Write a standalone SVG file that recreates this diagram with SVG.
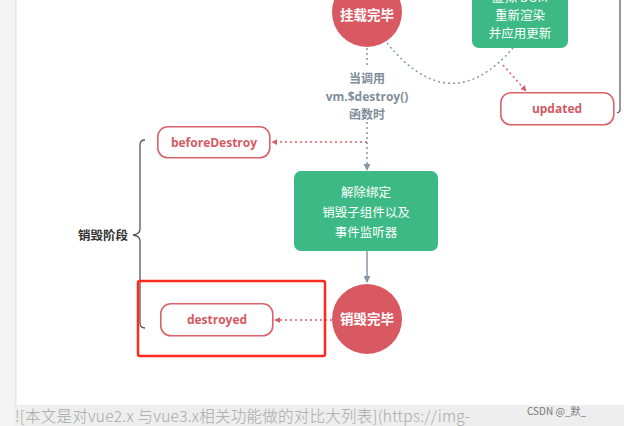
<svg xmlns="http://www.w3.org/2000/svg" width="624" height="426" viewBox="0 0 624 426">
<defs>
<marker id="ar" viewBox="0 0 8 8" refX="7" refY="4" markerWidth="6" markerHeight="6" orient="auto" markerUnits="userSpaceOnUse"><path d="M0,0 L8,4 L0,8 z" fill="#d9606a"/></marker>
<marker id="ag" viewBox="0 0 8 8" refX="7" refY="4" markerWidth="7" markerHeight="7" orient="auto" markerUnits="userSpaceOnUse"><path d="M0,0 L8,4 L0,8 z" fill="#8796a3"/></marker>
</defs>
<style>
.circ{fill:#d95962}
.gbox{fill:#3cb985}
.hook{fill:#fff;stroke:#d9636b;stroke-width:1.6}
.ct{font-family:"Noto Sans CJK SC",sans-serif;font-weight:700;font-size:13.5px;fill:#fff;text-anchor:middle}
.gt{font-family:"Noto Sans CJK SC",sans-serif;font-size:12.5px;fill:#fff;text-anchor:middle}
.ht{font-family:"Open Sans","Noto Sans",sans-serif;font-weight:700;font-size:12px;fill:#d45a64;text-anchor:middle}
.lt{font-family:"Open Sans","Noto Sans CJK SC",sans-serif;font-weight:700;font-size:12px;fill:#7f8d99;text-anchor:middle}
.dg{fill:none;stroke:#8796a3;stroke-width:1.5;stroke-dasharray:2 3}
.dr{fill:none;stroke:#d9606a;stroke-width:1.5;stroke-dasharray:2 3}
</style>
<rect x="0" y="0" width="624" height="426" fill="#fff"/>
<rect x="0" y="0" width="15" height="426" fill="#f4f4f4"/>
<rect x="15" y="0" width="1.5" height="405" fill="#e6e6e6"/>
<rect x="15" y="405" width="609" height="21" fill="#eeeeee"/>
<text x="15" y="422" font-family="'Noto Sans CJK SC',sans-serif" font-size="15.5" fill="#a8a8a8" font-weight="300" textLength="455" lengthAdjust="spacing">![本文是对vue2.x 与vue3.x相关功能做的对比大列表](https://img-</text>
<text x="527" y="415" font-family="'Noto Sans CJK SC',sans-serif" font-size="10" fill="#777">CSDN @_默_</text>

<g id="connectors">
<path class="dg" d="M387,43 Q450,121 513,48"/>
<path class="dr" d="M503,65 L526,91" marker-end="url(#ar)"/>
<path class="dg" d="M367,48 L367,68"/>
<path class="dg" d="M367,122 L367,170" marker-end="url(#ag)"/>
<path class="dr" d="M367,142 L272,142" marker-end="url(#ar)"/>
<path d="M367,251 L367,282" fill="none" stroke="#8796a3" stroke-width="1.5" marker-end="url(#ag)"/>
<path class="dr" d="M332,320 L275,320" marker-end="url(#ar)"/>
</g>

<g id="mounted">
<circle class="circ" cx="367" cy="12" r="35"/>
<text class="ct" x="367" y="20">挂载完毕</text>
</g>
<g id="rerender">
<rect class="gbox" x="472" y="-20" width="96" height="68" rx="7"/>
<text class="gt" x="520" y="2">虚拟 DOM</text>
<text class="gt" x="520" y="20">重新渲染</text>
<text class="gt" x="520" y="38">并应用更新</text>
</g>
<g id="updated">
<rect class="hook" x="500.8" y="92.8" width="113" height="32" rx="10"/>
<text class="ht" x="557" y="113">updated</text>
</g>
<g id="rightbrace">
<path d="M620,0 L620,110 Q620,112 617,113" fill="none" stroke="#555" stroke-width="1.2"/>
</g>
<g id="calllabel">
<text class="lt" x="367" y="83">当调用</text>
<text class="lt" x="367" y="101">vm.$destroy()</text>
<text class="lt" x="367" y="119">函数时</text>
</g>
<g id="beforeDestroy">
<rect class="hook" x="157.8" y="126.8" width="112" height="31" rx="10"/>
<text class="ht" x="214" y="147">beforeDestroy</text>
</g>
<g id="teardown">
<rect class="gbox" x="294" y="171" width="144" height="80" rx="7"/>
<text class="gt" x="366" y="197">解除绑定</text>
<text class="gt" x="366" y="217">销毁子组件以及</text>
<text class="gt" x="366" y="237">事件监听器</text>
</g>
<g id="destroyedDone">
<circle class="circ" cx="367" cy="319" r="35"/>
<text class="ct" x="367" y="324">销毁完毕</text>
</g>
<g id="destroyed">
<rect class="hook" x="160.8" y="303.8" width="112" height="32" rx="10"/>
<text class="ht" x="217" y="324">destroyed</text>
</g>
<g id="phase">
<path d="M145,140 Q140,140 140,145 L140,229 Q140,234 133,235 Q140,236 140,241 L140,323 Q140,328 145,328" fill="none" stroke="#555" stroke-width="1.3"/>
<text x="103" y="240" font-family="'Noto Sans CJK SC',sans-serif" font-weight="700" font-size="12.5" fill="#333" text-anchor="middle">销毁阶段</text>
</g>
<g id="highlight">
<rect x="138" y="281" width="187" height="75" rx="2" fill="none" stroke="#ff2a1f" stroke-width="2.5"/>
</g>
</svg>
